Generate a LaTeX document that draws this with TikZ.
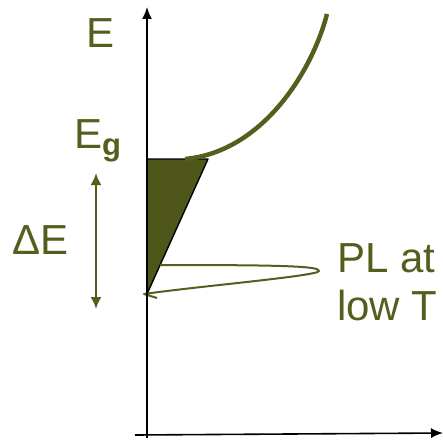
\documentclass[tikz,border=0pt]{standalone}
\usepackage{fontspec}
\setmainfont{Liberation Sans}
\usetikzlibrary{arrows.meta}
\definecolor{olivetext}{RGB}{86,94,30}
\definecolor{olivefill}{RGB}{78,86,26}
\tikzset{
  lbl/.style={inner sep=0pt, anchor=base west, text=olivetext, font=\fontsize{42}{48}\selectfont},
  axisline/.style={black, line width=1.6pt, -{Latex[length=12pt,width=10pt]}},
  gaparrow/.style={olivetext, line width=2.2pt, {Latex[length=12pt,width=11pt]}-{Latex[length=12pt,width=11pt]}},
  dos/.style={olivetext, line width=4.5pt},
  plline/.style={olivetext, line width=2pt, line join=round},
}
\begin{document}
\begin{tikzpicture}[x=1pt,y=-1pt]
\useasboundingbox (0,0) rectangle (443,441);
% coordinates
\coordinate (ybot) at (147,438);
\coordinate (ytop) at (147,7);
\coordinate (xleft) at (135,435);
\coordinate (xright) at (443,433);
\coordinate (tl) at (147,159);
\coordinate (tr) at (208,159);
\coordinate (tb) at (147,294);
% filled tail triangle
\fill[olivefill] (tl) -- (tr) -- (tb) -- cycle;
\draw[black, line width=1.4pt, line join=round] (tl) -- (tr) -- (tb);
% density of states curve
\coordinate (dosstart) at (185,159);
\coordinate (dosend) at (327,14);
\draw[dos] (dosstart) .. controls (262,152) and (312,72) .. (dosend);
% PL peak
\coordinate (plstart) at (160,265);
\coordinate (pltip) at (319,271);
\coordinate (plend) at (144,294);
\coordinate (plhook) at (157,298);
\draw[plline] (plstart) .. controls (280,265) and (320,266) .. (pltip)
  .. controls (318,276) and (200,286) .. (plend) -- (plhook);
% axes
\draw[axisline] (ybot) -- (ytop);
\draw[axisline] (xleft) -- (xright);
% gap arrow
\coordinate (gtop) at (96,173);
\coordinate (gbot) at (96,309);
\draw[gaparrow] (gtop) -- (gbot);
% labels
\node[lbl] (E) at (86,48) {E};
\node[lbl] (Eg) at (74,148) {E\raisebox{-7pt}{\fontsize{31}{31}\selectfont\bfseries g}};
\node[lbl] (dE) at (12,254) {ΔE};
\node[lbl] (PL1) at (337,272) {PL at};
\node[lbl] (PL2) at (337,320) {low T};
\end{tikzpicture}
\end{document}
